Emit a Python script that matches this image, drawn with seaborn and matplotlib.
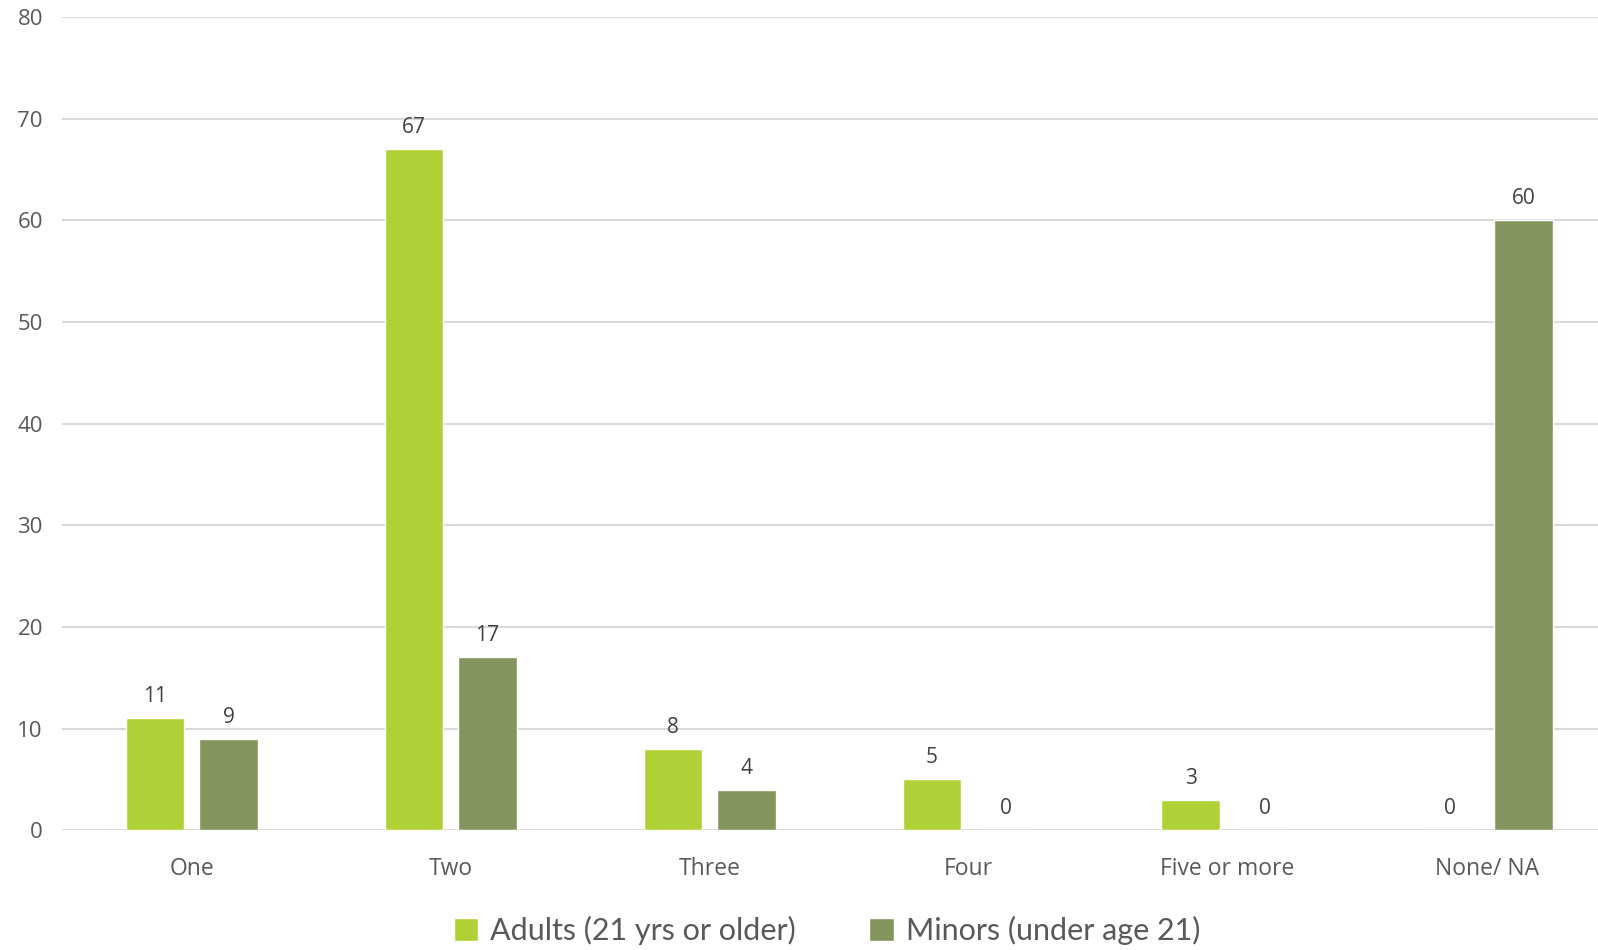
import matplotlib.pyplot as plt
import numpy as np
import pandas as pd
import seaborn as sns

# data
categories = ["One", "Two", "Three", "Four", "Five or more", "None/ NA"]
adults = [11, 67, 8, 5, 3, 0]
minors = [9, 17, 4, 0, 0, 60]
series_names = ["Adults (21 yrs or older)", "Minors (under age 21)"]
colors = ["#B0D136", "#83945C"]

df = pd.DataFrame({
    "category": categories * 2,
    "value": adults + minors,
    "group": [series_names[0]] * len(categories) + [series_names[1]] * len(categories),
})

sns.set_theme(style="white")
plt.rcParams["font.family"] = ["Open Sans", "DejaVu Sans"]

fig = plt.figure(figsize=(15.98, 9.5), dpi=100)
ax = fig.add_axes([0.039, 0.126, 0.961, 0.856])

sns.barplot(data=df, x="category", y="value", hue="group", palette=colors,
            width=0.568, gap=0.2, saturation=1, ax=ax, errorbar=None)

for c in ax.containers:
    ax.bar_label(c, fmt="%d", padding=8, fontsize=15, color="#404040")

ax.set_ylim(0, 80)
ax.set_xlim(-0.5, 5.43)
ax.set_yticks(np.arange(0, 81, 10))
ax.yaxis.grid(True, color="#D9D9D9", linewidth=1.5)
ax.set_axisbelow(True)
for s in ax.spines.values():
    s.set_visible(False)
ax.tick_params(axis="y", length=0, pad=14, labelsize=16, labelcolor="#595959")
ax.tick_params(axis="x", length=0, pad=19, labelsize=16.5, labelcolor="#595959")
ax.set_xlabel("")
ax.set_ylabel("")

sns.move_legend(ax, "center", bbox_to_anchor=(0.498, -0.123), ncol=2, frameon=False,
                title=None, fontsize=22, handlelength=0.8, handleheight=0.8,
                handletextpad=0.4, columnspacing=2.4)
for t in ax.get_legend().get_texts():
    t.set_color("#595959")
    t.set_family(["Lato", "DejaVu Sans"])

fig.savefig("out.png", dpi=100)
